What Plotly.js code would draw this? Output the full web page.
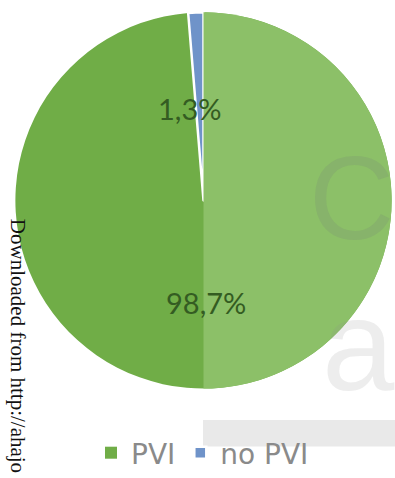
<!DOCTYPE html>
<html>
<head>
<meta charset="utf-8">
<script src="https://cdn.plot.ly/plotly-3.0.1.min.js"></script>
<style>
  html, body { margin: 0; padding: 0; background: #ffffff; }
  #chart { width: 395px; height: 478px; }
</style>
</head>
<body>
<div id="chart"></div>
<script>
// ---- data ----
var categories = ["PVI", "no PVI"];
var values = [98.7, 1.3];
var valueLabels = ["98,7%", "1,3%"];
var sliceColors = ["#70ad47", "#6f93c9"];
// lighter shading of the right half (rendering effect of the original)
var shadeValues = [50, 50];
var shadeColors = ["#8cc068", "rgba(0,0,0,0)"];

var W = 395, H = 478;
var pieDomain = { x: [12 / W, 1], y: [0.1715, 0.9737] };

// centre & radius in pixels (as Plotly computes them for this domain)
var cxPx = (pieDomain.x[0] + pieDomain.x[1]) / 2 * W;
var cyPx = H - (pieDomain.y[0] + pieDomain.y[1]) / 2 * H;
var rPx = Math.min((pieDomain.x[1] - pieDomain.x[0]) * W, (pieDomain.y[1] - pieDomain.y[0]) * H) / 2;

var mainTrace = {
  type: "pie",
  labels: categories,
  values: values,
  sort: false,
  direction: "clockwise",
  rotation: 0,
  domain: pieDomain,
  marker: { colors: sliceColors, line: { color: "#ffffff", width: [0, 2.5] } },
  textinfo: "none",
  hoverinfo: "none",
  showlegend: true
};

var shadeTrace = {
  type: "pie",
  values: shadeValues,
  labels: ["shade-a", "shade-b"],
  sort: false,
  direction: "clockwise",
  rotation: 0,
  domain: pieDomain,
  marker: { colors: shadeColors, line: { width: 0 } },
  textinfo: "none",
  hoverinfo: "none",
  showlegend: false
};

// value labels placed at the slice mid-angles
var total = values.reduce(function (a, b) { return a + b; }, 0);
var labelRadius = [0.545, 0.49];
var labelShift = [-2, -10];
var annotations = [];
var cum = 0;
for (var i = 0; i < values.length; i++) {
  var mid = (cum + values[i] / 2) / total * 2 * Math.PI;
  cum += values[i];
  var px = cxPx + labelRadius[i] * rPx * Math.sin(mid) + labelShift[i];
  var py = cyPx - labelRadius[i] * rPx * Math.cos(mid);
  annotations.push({
    xref: "paper", yref: "paper",
    x: px / W, y: 1 - py / H,
    xanchor: "center", yanchor: "middle",
    text: valueLabels[i],
    showarrow: false,
    font: { family: "Lato, 'Open Sans', sans-serif", size: 29, color: "#345c22" }
  });
}

// watermark letters and side text of the original scan
annotations.push({
  xref: "paper", yref: "paper", x: 351 / W, y: 1 - 202 / H,
  xanchor: "center", yanchor: "middle", showarrow: false,
  text: "C",
  font: { family: "Liberation Sans, Arial, sans-serif", size: 118, color: "rgba(120,130,120,0.22)" }
});
annotations.push({
  xref: "paper", yref: "paper", x: 358 / W, y: 1 - 352 / H,
  xanchor: "center", yanchor: "middle", showarrow: false,
  text: "a",
  font: { family: "Liberation Sans, Arial, sans-serif", size: 130, color: "rgba(140,140,140,0.16)" }
});
annotations.push({
  xref: "paper", yref: "paper", x: 18 / W, y: 1 - 221 / H,
  xanchor: "center", yanchor: "top", showarrow: false,
  textangle: 90,
  text: "Downloaded from http://ahajo",
  font: { family: "Liberation Serif, 'Times New Roman', serif", size: 21, color: "#111111" }
});

var layout = {
  width: W, height: H,
  margin: { l: 0, r: 0, t: 0, b: 0 },
  paper_bgcolor: "#ffffff",
  showlegend: true,
  legend: {
    orientation: "h",
    x: 91 / W, xanchor: "left",
    y: 1 - 462 / H, yanchor: "middle",
    bgcolor: "rgba(0,0,0,0)",
    itemwidth: 30,
    font: { family: "'DejaVu Sans', sans-serif", size: 28, color: "#8a8a8a" },
    traceorder: "normal"
  },
  shapes: [{
    type: "rect", xref: "paper", yref: "paper", layer: "below",
    x0: 203 / W, x1: 1, y0: 1 - 455 / H, y1: 1 - 428 / H,
    fillcolor: "#e9e9e9", line: { width: 0 }
  }],
  annotations: annotations
};

Plotly.newPlot("chart", [mainTrace, shadeTrace], layout, { displayModeBar: false, staticPlot: true });
</script>
</body>
</html>
